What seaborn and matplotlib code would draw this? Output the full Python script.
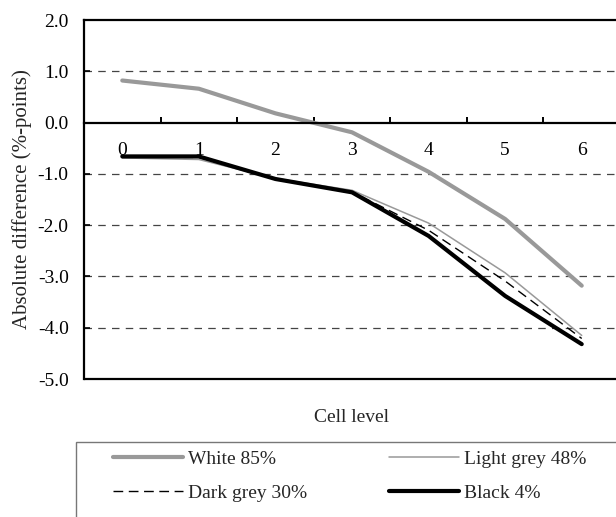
import matplotlib
matplotlib.use("Agg")
import matplotlib.pyplot as plt
import pandas as pd
import seaborn as sns
from matplotlib.patches import Rectangle

# data
cell_levels = [0, 1, 2, 3, 4, 5, 6]
white_85 = [0.82, 0.66, 0.18, -0.19, -0.96, -1.88, -3.18]
light_grey_48 = [-0.69, -0.72, -1.09, -1.32, -1.96, -2.93, -4.15]
dark_grey_30 = [-0.67, -0.68, -1.10, -1.35, -2.10, -3.09, -4.21]
black_4 = [-0.66, -0.66, -1.10, -1.36, -2.21, -3.38, -4.32]
y_ticks = [2.0, 1.0, 0.0, -1.0, -2.0, -3.0, -4.0, -5.0]

series = {
    "White 85%": white_85,
    "Light grey 48%": light_grey_48,
    "Dark grey 30%": dark_grey_30,
    "Black 4%": black_4,
}
styles = {
    "White 85%": dict(color="#999999", linewidth=3.0, linestyle="-"),
    "Light grey 48%": dict(color="#999999", linewidth=1.1, linestyle="-"),
    "Dark grey 30%": dict(color="black", linewidth=1.0, linestyle=(0, (7, 4))),
    "Black 4%": dict(color="black", linewidth=3.0, linestyle="-"),
}

rows = []
for name, vals in series.items():
    for lvl, v in zip(cell_levels, vals):
        rows.append({"series": name, "level": lvl, "value": v})
df = pd.DataFrame(rows)

sns.set_theme(style="white")
plt.rcParams["font.family"] = ["Liberation Serif", "DejaVu Serif"]
plt.rcParams["font.size"] = 14

fig = plt.figure(figsize=(6.16, 5.17), dpi=100)
ax = fig.add_axes([84 / 616, 1 - 379 / 517, 536 / 616, 359 / 517])

for name in series:
    sub = df[df["series"] == name]
    sns.lineplot(data=sub, x="level", y="value", ax=ax, label=name,
                 errorbar=None, **styles[name])

ax.set_xlim(-0.5, 6.5)
ax.set_ylim(-5.0, 2.0)
ax.set_yticks(y_ticks)
ax.set_yticklabels([f"{t:.1f}" for t in y_ticks])
ax.set_xticks(cell_levels)
ax.set_xticklabels([str(c) for c in cell_levels])
ax.set_xticks([c + 0.5 for c in cell_levels[:-1]], minor=True)

# Excel-like frame: category axis crossing at zero
ax.spines["bottom"].set_position(("data", 0))
ax.spines["right"].set_visible(False)
for s in ["bottom", "top", "left"]:
    ax.spines[s].set_linewidth(1.6)
    ax.spines[s].set_color("black")
ax.axhline(-5.0, color="black", linewidth=1.6, clip_on=False)

ax.tick_params(axis="x", which="major", length=0, pad=14, colors="black",
               labelsize=14)
ax.tick_params(axis="x", which="minor", direction="in", length=4.5, width=1.4,
               bottom=True, color="black")
ax.tick_params(axis="y", direction="in", length=4, width=1.2, pad=11,
               left=True, colors="black", labelsize=14)

ax.yaxis.grid(True, linestyle=(0, (6, 5)), color="#444444", linewidth=0.9)
for t, gl in zip(y_ticks, ax.get_ygridlines()):
    if t in (2.0, 0.0, -5.0):
        gl.set_visible(False)

ax.set_ylabel("Absolute difference (%-points)", fontsize=15)
ax.yaxis.set_label_coords(-0.097, 0.5)
ax.set_xlabel("Cell level", fontsize=14)
ax.xaxis.set_label_coords(0.5, -0.083)

# legend box like the source
fig.add_artist(Rectangle((76 / 616, -0.02), 0.9, (517 - 442) / 517 + 0.02,
                         transform=fig.transFigure, fill=False,
                         edgecolor="#777777", linewidth=1.0))
h, l = ax.get_legend_handles_labels()
order = ["White 85%", "Dark grey 30%", "Light grey 48%", "Black 4%"]
hl = dict(zip(l, h))
ax.get_legend().remove()
fig.legend([hl[o] for o in order], order, loc="upper left",
           bbox_to_anchor=(113 / 616, 1 - 450 / 517), bbox_transform=fig.transFigure,
           ncol=2, frameon=False, borderaxespad=0, borderpad=0,
           handlelength=3.6, handletextpad=0.25, columnspacing=4.2,
           labelspacing=0.85, fontsize=14)

fig.savefig("out.png", dpi=100)
